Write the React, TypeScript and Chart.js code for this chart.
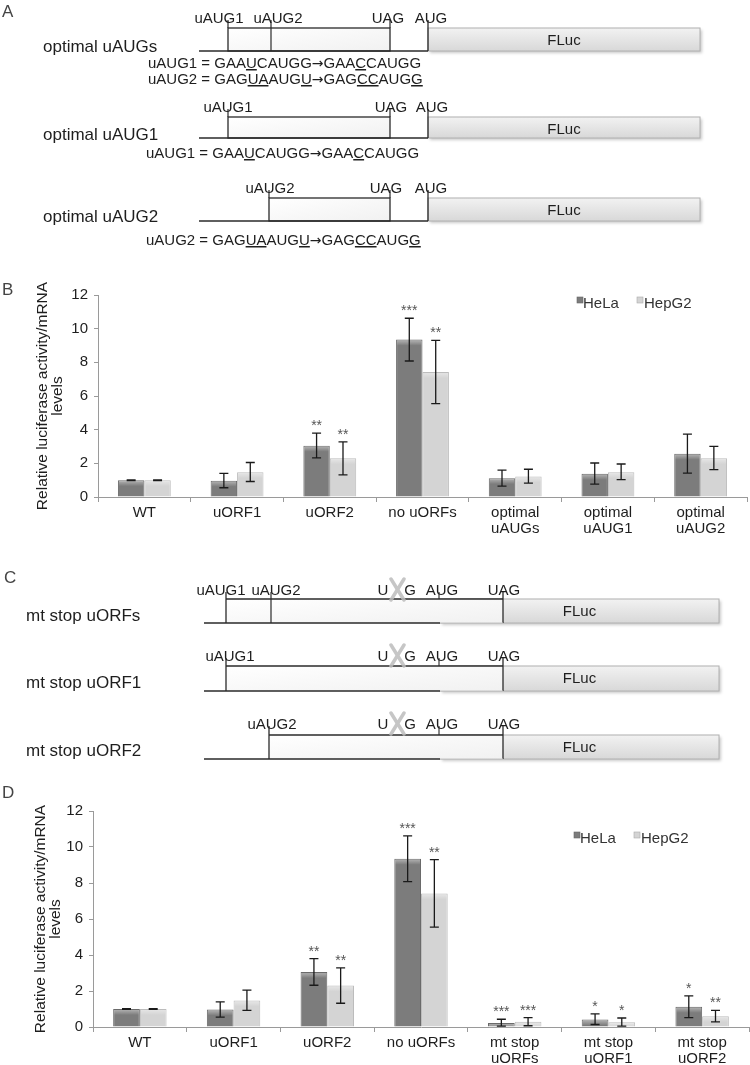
import React, { useEffect, useRef } from "react";
import { Chart, registerables } from "chart.js";
Chart.register(...registerables);

const FONT = "'Liberation Sans', Arial, Helvetica, sans-serif";

// ---------- Panel B data ----------
const categoriesB = ["WT", "uORF1", "uORF2", "no uORFs", ["optimal", "uAUGs"], ["optimal", "uAUG1"], ["optimal", "uAUG2"]];
const helaB = [1.0, 0.97, 3.05, 9.35, 1.12, 1.38, 2.57];
const helaBHigh = [1.02, 1.4, 3.8, 10.62, 1.6, 2.02, 3.73];
const helaBLow = [0.98, 0.55, 2.32, 8.08, 0.65, 0.76, 1.42];
const hepB = [1.0, 1.47, 2.3, 7.42, 1.22, 1.47, 2.3];
const hepBHigh = [1.02, 2.05, 3.28, 9.3, 1.65, 1.96, 3.01];
const hepBLow = [0.98, 0.92, 1.32, 5.55, 0.82, 1.03, 1.63];
const helaBStars = ["", "", "**", "***", "", "", ""];
const hepBStars = ["", "", "**", "**", "", "", ""];

// ---------- Panel D data ----------
const categoriesD = ["WT", "uORF1", "uORF2", "no uORFs", ["mt stop", "uORFs"], ["mt stop", "uORF1"], ["mt stop", "uORF2"]];
const helaD = [1.0, 0.97, 3.05, 9.35, 0.22, 0.42, 1.12];
const helaDHigh = [1.02, 1.4, 3.8, 10.62, 0.43, 0.73, 1.73];
const helaDLow = [0.98, 0.55, 2.32, 8.08, 0.05, 0.14, 0.52];
const hepD = [1.0, 1.47, 2.3, 7.42, 0.29, 0.27, 0.6];
const hepDHigh = [1.02, 2.05, 3.28, 9.3, 0.52, 0.5, 0.92];
const hepDLow = [0.98, 0.92, 1.32, 5.55, 0.07, 0.05, 0.29];
const helaDStars = ["", "", "**", "***", "***", "*", "*"];
const hepDStars = ["", "", "**", "**", "***", "*", "**"];

const seriesNames = ["HeLa", "HepG2"];
const yTitle = ["Relative luciferase activity/mRNA", "levels"];
const yMin = 0;
const yMax = 12;
const yStep = 2;

const HELA_COLOR = "#7c7c7c";
const HEP_COLOR = "#d4d4d4";

const decorPlugin = {
  id: "decor",
  afterDatasetsDraw(chart: any) {
    const ctx = chart.ctx;
    const yScale = chart.scales.y;
    chart.data.datasets.forEach((ds: any, di: number) => {
      const meta = chart.getDatasetMeta(di);
      meta.data.forEach((bar: any, i: number) => {
        const x = bar.x;
        const w = bar.width;
        // bevel highlight on top of bar
        ctx.save();
        const g = ctx.createLinearGradient(0, bar.y, 0, bar.y + 6);
        g.addColorStop(0, "rgba(255,255,255,0.45)");
        g.addColorStop(1, "rgba(255,255,255,0)");
        ctx.fillStyle = g;
        const h = Math.min(6, bar.base - bar.y);
        ctx.fillRect(x - w / 2 + 1, bar.y + 1, w - 2, h);
        ctx.restore();
        // error bars
        const yHi = yScale.getPixelForValue(ds.errHigh[i]);
        const yLo = yScale.getPixelForValue(ds.errLow[i]);
        ctx.save();
        ctx.strokeStyle = "#1a1a1a";
        ctx.lineWidth = 1.3;
        ctx.beginPath();
        ctx.moveTo(x, yLo);
        ctx.lineTo(x, yHi);
        ctx.moveTo(x - 4.5, yHi);
        ctx.lineTo(x + 4.5, yHi);
        ctx.moveTo(x - 4.5, yLo);
        ctx.lineTo(x + 4.5, yLo);
        ctx.stroke();
        const s = ds.stars[i];
        if (s) {
          ctx.fillStyle = "#555";
          ctx.font = `14px ${FONT}`;
          ctx.textAlign = "center";
          ctx.textBaseline = "alphabetic";
          ctx.fillText(s, x, yHi - 3);
        }
        ctx.restore();
      });
    });
  },
};

type BarProps = {
  top: number;
  height: number;
  labels: any[];
  hela: number[];
  helaHigh: number[];
  helaLow: number[];
  helaStars: string[];
  hep: number[];
  hepHigh: number[];
  hepLow: number[];
  hepStars: string[];
  axisWidth: number;
  padTop: number;
  padRight: number;
  xHeight: number;
  titlePad: number;
};

function BarChart(p: BarProps) {
  const ref = useRef<HTMLCanvasElement>(null);
  useEffect(() => {
    const chart = new Chart(ref.current as HTMLCanvasElement, {
      type: "bar",
      data: {
        labels: p.labels,
        datasets: [
          {
            label: seriesNames[0],
            data: p.hela,
            errHigh: p.helaHigh,
            errLow: p.helaLow,
            stars: p.helaStars,
            backgroundColor: HELA_COLOR,
            borderColor: "#6a6a6a",
            borderWidth: 1,
          } as any,
          {
            label: seriesNames[1],
            data: p.hep,
            errHigh: p.hepHigh,
            errLow: p.hepLow,
            stars: p.hepStars,
            backgroundColor: HEP_COLOR,
            borderColor: "#bcbcbc",
            borderWidth: 1,
          } as any,
        ],
      },
      options: {
        responsive: false,
        animation: false,
        devicePixelRatio: 1,
        layout: { padding: { top: p.padTop, right: p.padRight, left: 0, bottom: 0 }, autoPadding: false } as any,
        datasets: { bar: { categoryPercentage: 0.57, barPercentage: 1.0 } },
        plugins: { legend: { display: false }, tooltip: { enabled: false } },
        scales: {
          x: {
            afterFit: (s: any) => {
              s.height = p.xHeight;
            },
            grid: { display: true, drawOnChartArea: false, tickLength: 5, color: "#9a9a9a", offset: true },
            border: { color: "#9a9a9a", width: 1 },
            ticks: {
              font: { family: FONT, size: 15, lineHeight: 1.05 },
              color: "#1e1e1e",
              padding: 3,
              maxRotation: 0,
              autoSkip: false,
            },
          },
          y: {
            min: yMin,
            max: yMax,
            afterFit: (s: any) => {
              s.width = p.axisWidth;
            },
            ticks: {
              stepSize: yStep,
              font: { family: FONT, size: 15 },
              color: "#1e1e1e",
              padding: 6,
            },
            grid: { display: true, drawOnChartArea: false, tickLength: 4, color: "#9a9a9a" },
            border: { color: "#9a9a9a", width: 1 },
            title: {
              display: true,
              text: yTitle,
              font: { family: FONT, size: 15.5, lineHeight: 0.92 },
              color: "#1e1e1e",
              padding: { top: p.titlePad, bottom: 0 },
            },
          },
        },
      } as any,
      plugins: [decorPlugin],
    });
    return () => chart.destroy();
  }, []);
  return (
    <canvas
      ref={ref}
      width={750}
      height={p.height}
      style={{ position: "absolute", left: 0, top: p.top, width: 750, height: p.height }}
    />
  );
}

const T = (props: any) => (
  <text fontFamily={FONT} fill="#1e1e1e" {...props} />
);
const U = ({ children }: any) => <tspan style={{ textDecoration: "underline" }}>{children}</tspan>;
const Arrow = () => <tspan fontFamily="'DejaVu Sans', sans-serif" fontSize={14}>→</tspan>;

function Fluc({ x1, x2, top, bottom, textY }: any) {
  return (
    <g>
      <rect x={x1 + 2} y={top + 2} width={x2 - x1} height={bottom - top} fill="#888" opacity={0.45} filter="url(#blur)" />
      <rect x={x1} y={top} width={x2 - x1} height={bottom - top} fill="url(#flg)" stroke="#b0b0b0" strokeWidth={1} />
      <T x={(x1 + x2) / 2} y={textY} textAnchor="middle" fontSize={15}>FLuc</T>
    </g>
  );
}

const rowsA = [
  { base: 23, top: 28, line: 51, labels: [["uAUG1", 219], ["uAUG2", 278], ["UAG", 388], ["AUG", 431]], boxL: 228, boxR: 390, divider: 271, name: "optimal uAUGs", nameY: 52 },
  { base: 112, top: 117, line: 138, labels: [["uAUG1", 228], ["UAG", 391], ["AUG", 432]], boxL: 228, boxR: 390, divider: 0, name: "optimal uAUG1", nameY: 140 },
  { base: 193, top: 198, line: 221, labels: [["uAUG2", 270], ["UAG", 386], ["AUG", 431]], boxL: 269, boxR: 390, divider: 0, name: "optimal uAUG2", nameY: 222 },
];

const rowsC = [
  { base: 595, top: 599, line: 623, labels: [["uAUG1", 221], ["uAUG2", 276]], boxL: 226, divider: 271, name: "mt stop uORFs", nameY: 621 },
  { base: 661, top: 666, line: 691, labels: [["uAUG1", 230]], boxL: 226, divider: 0, name: "mt stop uORF1", nameY: 688 },
  { base: 729, top: 735, line: 759, labels: [["uAUG2", 272]], boxL: 269, divider: 0, name: "mt stop uORF2", nameY: 756 },
];

function Diagrams() {
  const dark = "#2a2a2a";
  return (
    <svg width={750} height={1065} style={{ position: "absolute", left: 0, top: 0, pointerEvents: "none" }}>
      <defs>
        <linearGradient id="flg" x1="0" y1="0" x2="0" y2="1">
          <stop offset="0" stopColor="#f2f2f2" />
          <stop offset="1" stopColor="#d8d8d8" />
        </linearGradient>
        <linearGradient id="orf" x1="0" y1="0" x2="1" y2="1">
          <stop offset="0" stopColor="#ffffff" />
          <stop offset="1" stopColor="#f1f1f1" />
        </linearGradient>
        <filter id="blur" x="-5%" y="-30%" width="110%" height="160%">
          <feGaussianBlur stdDeviation="1.5" />
        </filter>
      </defs>

      {/* panel letters */}
      <T x={2} y={17} fontSize={17} fill="#444">A</T>
      <T x={2} y={295} fontSize={17} fill="#444">B</T>
      <T x={4} y={583} fontSize={17} fill="#444">C</T>
      <T x={2} y={798} fontSize={17} fill="#444">D</T>

      {/* Panel A */}
      {rowsA.map((r, k) => (
        <g key={"a" + k}>
          <Fluc x1={428} x2={700} top={r.top} bottom={r.line} textY={r.top + 17} />
          <rect x={r.boxL} y={r.top} width={r.boxR - r.boxL} height={r.line - r.top} fill="url(#orf)" stroke={dark} strokeWidth={1.3} />
          <line x1={199} y1={r.line} x2={428} y2={r.line} stroke={dark} strokeWidth={1.4} />
          <line x1={r.boxL} y1={r.base - 3} x2={r.boxL} y2={r.top} stroke={dark} strokeWidth={1.2} />
          <line x1={r.boxR} y1={r.base - 3} x2={r.boxR} y2={r.top} stroke={dark} strokeWidth={1.2} />
          <line x1={428} y1={r.base - 3} x2={428} y2={r.line} stroke={dark} strokeWidth={1.3} />
          {r.divider ? <line x1={r.divider} y1={r.base - 3} x2={r.divider} y2={r.line} stroke={dark} strokeWidth={1.2} /> : null}
          {r.labels.map(([t, x]: any) => (
            <T key={t} x={x} y={r.base} fontSize={15} textAnchor="middle">{t}</T>
          ))}
          <T x={43} y={r.nameY} fontSize={17}>{r.name}</T>
        </g>
      ))}
      <T x={148} y={68} fontSize={15}>uAUG1 = GAA<U>U</U>CAUGG<Arrow />GAA<U>C</U>CAUGG</T>
      <T x={148} y={84} fontSize={15}>uAUG2 = GAG<U>UA</U>AUG<U>U</U><Arrow />GAG<U>CC</U>AUG<U>G</U></T>
      <T x={146} y={158} fontSize={15}>uAUG1 = GAA<U>U</U>CAUGG<Arrow />GAA<U>C</U>CAUGG</T>
      <T x={146} y={245} fontSize={15}>uAUG2 = GAG<U>UA</U>AUG<U>U</U><Arrow />GAG<U>CC</U>AUG<U>G</U></T>

      {/* Panel C */}
      {rowsC.map((r, k) => (
        <g key={"c" + k}>
          <Fluc x1={440} x2={719} top={r.top} bottom={r.line} textY={r.top + 17} />
          <rect x={r.boxL} y={r.top} width={503 - r.boxL} height={r.line - r.top} fill="url(#orf)" />
          <line x1={r.boxL} y1={r.top} x2={503} y2={r.top} stroke={dark} strokeWidth={1.3} />
          <line x1={r.boxL} y1={r.base - 3} x2={r.boxL} y2={r.line} stroke={dark} strokeWidth={1.3} />
          <line x1={503} y1={r.base - 3} x2={503} y2={r.line} stroke={dark} strokeWidth={1.3} />
          <line x1={204} y1={r.line} x2={440} y2={r.line} stroke={dark} strokeWidth={1.4} />
          <line x1={440} y1={r.line} x2={503} y2={r.line} stroke="#c4c4c4" strokeWidth={1.2} />
          <line x1={439} y1={r.base - 3} x2={439} y2={r.top} stroke={dark} strokeWidth={1.1} />
          {r.divider ? <line x1={r.divider} y1={r.base - 3} x2={r.divider} y2={r.line} stroke={dark} strokeWidth={1.2} /> : null}
          {r.labels.map(([t, x]: any) => (
            <T key={t} x={x} y={r.base} fontSize={15} textAnchor="middle">{t}</T>
          ))}
          <T x={383} y={r.base} fontSize={15} textAnchor="middle">U</T>
          <T x={410} y={r.base} fontSize={15} textAnchor="middle">G</T>
          <g stroke="#bdbdbd" strokeWidth={3.5} strokeLinecap="round" opacity={0.85}>
            <line x1={391} y1={r.base - 16} x2={404} y2={r.base + 5} />
            <line x1={404} y1={r.base - 16} x2={391} y2={r.base + 5} />
          </g>
          <T x={442} y={r.base} fontSize={15} textAnchor="middle">AUG</T>
          <T x={504} y={r.base} fontSize={15} textAnchor="middle">UAG</T>
          <T x={26} y={r.nameY} fontSize={17}>{r.name}</T>
        </g>
      ))}

      {/* Legends */}
      {[0, 535].map((dy, k) => (
        <g key={"lg" + k}>
          <rect x={577 - k * 3} y={297 + dy} width={6} height={6} fill={HELA_COLOR} stroke="#666" strokeWidth={0.6} />
          <T x={583 - k * 3} y={308 + dy} fontSize={15} fill="#333">{seriesNames[0]}</T>
          <rect x={637 - k * 3} y={297 + dy} width={6} height={6} fill={HEP_COLOR} stroke="#aaa" strokeWidth={0.6} />
          <T x={644 - k * 3} y={308 + dy} fontSize={15} fill="#333">{seriesNames[1]}</T>
        </g>
      ))}
    </svg>
  );
}

export default function App() {
  return (
    <div style={{ position: "absolute", left: 0, top: 0, width: 750, height: 1065, background: "#fff", overflow: "hidden" }}>
      <BarChart
        top={280}
        height={265}
        labels={categoriesB}
        hela={helaB}
        helaHigh={helaBHigh}
        helaLow={helaBLow}
        helaStars={helaBStars}
        hep={hepB}
        hepHigh={hepBHigh}
        hepLow={hepBLow}
        hepStars={hepBStars}
        axisWidth={98}
        padTop={9}
        padRight={3}
        xHeight={48}
        titlePad={36}
      />
      <BarChart
        top={790}
        height={275}
        labels={categoriesD}
        hela={helaD}
        helaHigh={helaDHigh}
        helaLow={helaDLow}
        helaStars={helaDStars}
        hep={hepD}
        hepHigh={hepDHigh}
        hepLow={hepDLow}
        hepStars={hepDStars}
        axisWidth={93}
        padTop={21}
        padRight={1}
        xHeight={38}
        titlePad={34}
      />
      <Diagrams />
    </div>
  );
}
